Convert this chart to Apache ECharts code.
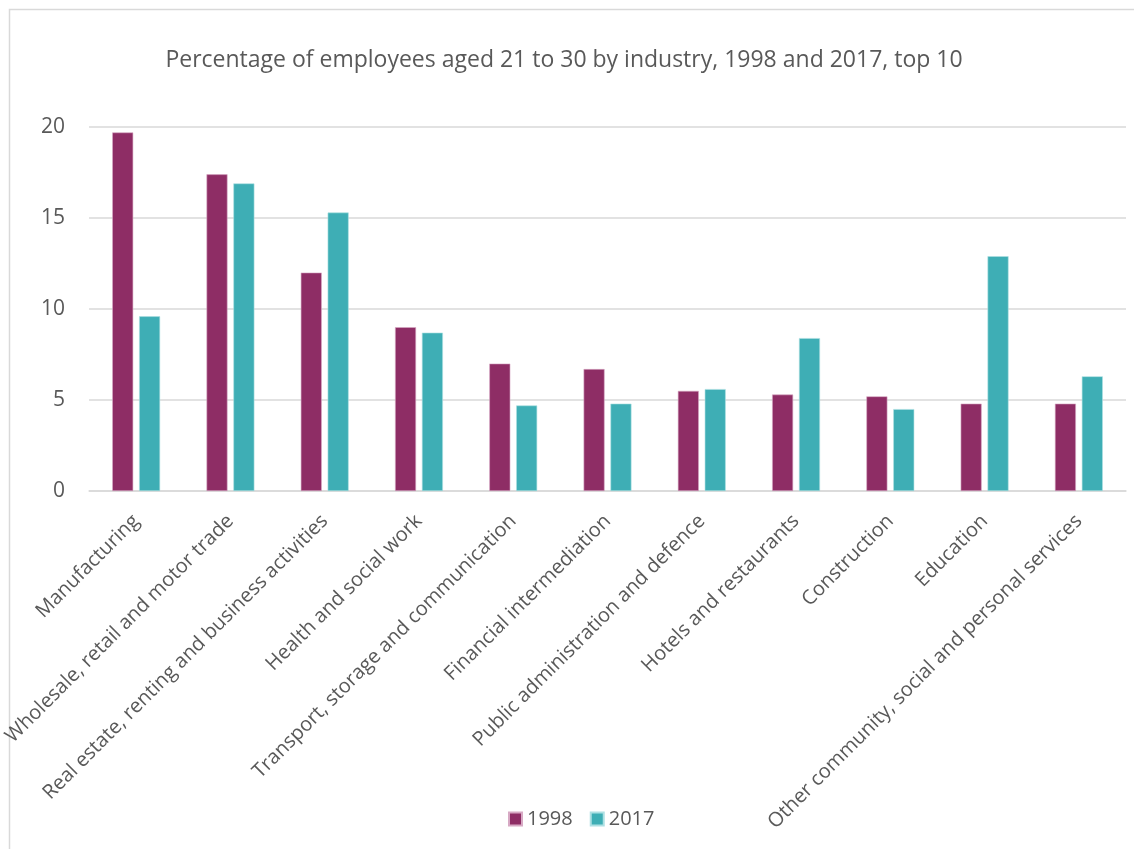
<!DOCTYPE html>
<html>
<head>
<meta charset="utf-8">
<script src="https://cdn.jsdelivr.net/npm/echarts@6/dist/echarts.min.js"></script>
<style>
html,body{margin:0;padding:0;background:#fff;}
#c{width:1134px;height:849px;}
</style>
</head>
<body>
<div id="c"></div>
<script>
var categories = [
  "Manufacturing",
  "Wholesale, retail and motor trade",
  "Real estate, renting and business activities",
  "Health and social work",
  "Transport, storage and communication",
  "Financial intermediation",
  "Public administration and defence",
  "Hotels and restaurants",
  "Construction",
  "Education",
  "Other community, social and personal services"
];
var values1998 = [19.7, 17.4, 12.0, 9.0, 7.0, 6.7, 5.5, 5.3, 5.2, 4.8, 4.8];
var values2017 = [9.6, 16.9, 15.3, 8.7, 4.7, 4.8, 5.6, 8.4, 4.5, 12.9, 6.3];
var seriesNames = ["1998", "2017"];
var titleText = "Percentage of employees aged 21 to 30 by industry, 1998 and 2017, top 10";

var FONT = "Open Sans";
var TXT = "#595959";
var chart = echarts.init(document.getElementById('c'), null, {renderer: 'canvas'});
chart.setOption({
  animation: false,
  backgroundColor: '#fff',
  textStyle: {fontFamily: FONT},
  graphic: [{
    type: 'rect', silent: true,
    shape: {x: 9.5, y: 9.5, width: 1200, height: 900},
    style: {fill: 'none', stroke: '#d9d9d9', lineWidth: 1.5}
  }],
  title: {
    text: titleText,
    left: 559, top: 44, textAlign: 'center',
    textStyle: {fontFamily: FONT, fontSize: 23, fontWeight: 'normal', color: TXT}
  },
  legend: {
    data: seriesNames,
    left: 503, top: 804,
    itemWidth: 13, itemHeight: 13, itemGap: 17,
    icon: 'rect',
    textStyle: {fontFamily: FONT, fontSize: 20, color: TXT}
  },
  grid: {left: 86, right: 8, top: 127, bottom: 358, containLabel: false},
  xAxis: {
    type: 'category',
    data: categories,
    axisLine: {lineStyle: {color: '#d9d9d9', width: 1.5}},
    axisTick: {show: false},
    axisLabel: {
      interval: 0, rotate: 45, margin: 27,
      fontFamily: FONT, fontSize: 20, color: TXT
    }
  },
  yAxis: {
    type: 'value', min: 0, max: 20, interval: 5,
    axisLine: {show: false},
    axisTick: {show: false},
    splitLine: {lineStyle: {color: '#d9d9d9', width: 1.5}},
    axisLabel: {margin: 24, fontFamily: FONT, fontSize: 21, color: TXT}
  },
  series: [
    {
      name: seriesNames[0], type: 'bar', data: values1998,
      barWidth: 21, barGap: '28%',
      itemStyle: {color: '#8E2D65', borderColor: '#d7a9c4', borderWidth: 0.6}
    },
    {
      name: seriesNames[1], type: 'bar', data: values2017,
      barWidth: 21,
      itemStyle: {color: '#3EAEB5', borderColor: '#aee0e3', borderWidth: 0.6}
    }
  ]
});
</script>
</body>
</html>
